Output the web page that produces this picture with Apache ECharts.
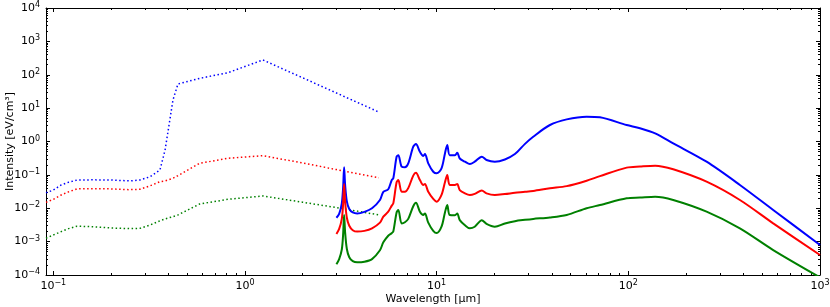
<!DOCTYPE html>
<html><head><meta charset="utf-8">
<script src="https://cdn.jsdelivr.net/npm/echarts@6/dist/echarts.min.js"></script>
<style>html,body{margin:0;padding:0;background:#fff}#c{width:830px;height:307px}</style>
</head><body><div id="c"></div>
<script>
// ---- data (wavelength in micron, intensity in eV/cm^3) ----
const dottedWave = [0.0916, 0.1, 0.11, 0.12, 0.133, 0.16, 0.2, 0.25, 0.283, 0.32, 0.36, 0.383, 0.421, 0.447, 0.58, 0.815, 1.24, 2.0, 3.0, 5.0];
const dottedBlue = [0.029, 0.035, 0.05, 0.06, 0.070, 0.071, 0.070, 0.066, 0.070, 0.088, 0.14, 0.556, 17.5, 52.8, 78, 115, 277, 81, 28.4, 7.6];
const dottedRed  = [0.015, 0.0185, 0.025, 0.031, 0.038, 0.0386, 0.038, 0.036, 0.037, 0.047, 0.0625, 0.066, 0.079, 0.095, 0.222, 0.314, 0.376, 0.227, 0.144, 0.082];
const dottedGreen= [0.00126, 0.00158, 0.002, 0.00245, 0.0029, 0.0028, 0.00256, 0.00245, 0.0025, 0.00315, 0.0042, 0.0048, 0.0056, 0.0063, 0.0134, 0.0185, 0.0233, 0.0151, 0.0105, 0.0063];

const solidWave = [3.0, 3.1, 3.2, 3.25, 3.29, 3.33, 3.4, 3.5, 3.65, 3.85, 4.2, 4.6, 5.06, 5.27, 5.59, 5.83, 5.94, 6.18, 6.31, 6.57, 6.83, 7.11, 7.55, 7.8, 8.18, 8.51, 8.69, 9.04, 9.6, 10.0, 10.6, 11.05, 11.36, 11.7, 12.46, 12.81, 13.2, 14.05, 14.9, 15.8, 17.2, 18.2, 20.1, 22.7, 25.6, 28.9, 31.9, 39, 47.7, 60.6, 71.1, 98, 115, 138, 171.5, 256, 382, 570, 1000];
const solidBlue = [0.0052, 0.0068, 0.014, 0.04, 0.17, 0.05, 0.016, 0.0095, 0.0075, 0.0070, 0.0078, 0.010, 0.0177, 0.031, 0.037, 0.07, 0.079, 0.35, 0.39, 0.176, 0.169, 0.222, 0.70, 0.84, 0.49, 0.37, 0.42, 0.22, 0.124, 0.111, 0.157, 0.44, 0.79, 0.39, 0.39, 0.46, 0.31, 0.248, 0.21, 0.248, 0.35, 0.28, 0.248, 0.29, 0.42, 0.85, 1.39, 3.12, 4.6, 5.54, 5.3, 3.12, 2.49, 1.75, 0.88, 0.248, 0.0498, 0.00887, 0.00079];
const solidRed = [0.0017, 0.0024, 0.0048, 0.013, 0.053, 0.016, 0.0052, 0.003, 0.0022, 0.0020, 0.0021, 0.0025, 0.0037, 0.0056, 0.0079, 0.012, 0.014, 0.06, 0.07, 0.031, 0.031, 0.040, 0.095, 0.115, 0.07, 0.05, 0.053, 0.031, 0.019, 0.0157, 0.025, 0.06, 0.099, 0.05, 0.05, 0.053, 0.035, 0.028, 0.025, 0.027, 0.034, 0.028, 0.025, 0.0267, 0.029, 0.031, 0.033, 0.0395, 0.046, 0.067, 0.092, 0.165, 0.178, 0.189, 0.147, 0.0625, 0.0177, 0.00354, 0.000397];
const solidGreen = [0.00021, 0.0003, 0.00058, 0.0016, 0.0063, 0.0019, 0.0006, 0.00034, 0.00026, 0.00024, 0.00025, 0.0003, 0.00055, 0.00095, 0.0015, 0.0018, 0.002, 0.0075, 0.0089, 0.0035, 0.0038, 0.0048, 0.0115, 0.0145, 0.0079, 0.0063, 0.007, 0.0037, 0.0021, 0.0018, 0.0028, 0.0075, 0.0125, 0.0063, 0.0062, 0.007, 0.0044, 0.0031, 0.0025, 0.0028, 0.0044, 0.0034, 0.0028, 0.0035, 0.0041, 0.0045, 0.0048, 0.0053, 0.0063, 0.010, 0.0125, 0.0199, 0.0209, 0.0222, 0.0177, 0.0079, 0.0025, 0.00056, 0.000085];

const xMajor = [0.1, 1, 10, 100, 1000];
const yMajor = [1e-4, 1e-3, 1e-2, 1e-1, 1, 10, 100, 1000, 10000];
const xMin = 0.0916, xMax = 1000, yMin = 1e-4, yMax = 1e4;
const xTitle = 'Wavelength [\u03bcm]';
const yTitle = 'Intensity [eV/cm\u00b3]';

// ---- helpers ----
const FONT = 'DejaVu Sans';
function minorOf(lo, hi) {
  const out = [];
  const e0 = Math.floor(Math.log10(lo)), e1 = Math.ceil(Math.log10(hi));
  for (let e = e0; e <= e1; e++) for (let k = 2; k <= 9; k++) {
    const v = k * Math.pow(10, e);
    if (v >= lo && v <= hi) out.push(v);
  }
  return out;
}
function powLabel(v) {
  const e = Math.round(Math.log10(v));
  return '{b|10}{s|' + (e < 0 ? '\u2212' + (-e) : e) + '}';
}
const rich = {
  b: { fontFamily: FONT, fontSize: 11, color: '#000', lineHeight: 14 },
  s: { fontFamily: FONT, fontSize: 8, color: '#000', lineHeight: 7, verticalAlign: 'top' }
};
const pair = (w, v) => w.map((x, i) => [x, v[i]]);
const black = { color: '#000', width: 1 };

function axisSet(kind, min, max, majors, pos, withLabels, extra) {
  const minors = minorOf(min, max);
  const base = { type: 'log', logBase: 10, min: min, max: max, position: pos, splitLine: { show: false }, minorTick: { show: false } };
  const major = Object.assign({}, base, {
    axisLine: { show: true, onZero: false, lineStyle: black },
    axisTick: { show: true, inside: true, length: 4, customValues: majors, lineStyle: black },
    axisLabel: withLabels ? { show: true, customValues: majors, formatter: powLabel, rich: rich, margin: kind === 'x' ? 4 : 6 } : { show: false }
  }, extra || {});
  const minor = Object.assign({}, base, {
    axisLine: { show: false },
    axisTick: { show: true, inside: true, length: 2, customValues: minors, lineStyle: black },
    axisLabel: { show: false }
  });
  return [major, minor];
}

const nameStyle = { fontFamily: FONT, fontSize: 11, color: '#000' };
const xAxes = [].concat(
  axisSet('x', xMin, xMax, xMajor, 'bottom', true, { name: xTitle, nameLocation: 'middle', nameGap: 19, nameMoveOverlap: false, nameTextStyle: nameStyle }),
  axisSet('x', xMin, xMax, xMajor, 'top', false)
);
const yAxes = [].concat(
  axisSet('y', yMin, yMax, yMajor, 'left', true, { name: yTitle, nameLocation: 'middle', nameGap: 30, nameRotate: 90, nameMoveOverlap: false, nameTextStyle: nameStyle }),
  axisSet('y', yMin, yMax, yMajor, 'right', false)
);

function lineSeries(w, v, color, dotted) {
  return {
    type: 'line', xAxisIndex: 0, yAxisIndex: 0, data: pair(w, v),
    showSymbol: false, symbol: 'none', clip: true,
    smooth: dotted ? false : 0.3,
    lineStyle: dotted ? { color: color, width: 1.5, type: [1.5, 2.5] } : { color: color, width: 2 },
    itemStyle: { color: color }, silent: true
  };
}

const chart = echarts.init(document.getElementById('c'), null, { renderer: 'canvas' });
chart.setOption({
  animation: false,
  backgroundColor: '#fff',
  grid: { left: 46, right: 10, top: 8, bottom: 32, containLabel: false, outerBoundsMode: 'none' },
  xAxis: xAxes,
  yAxis: yAxes,
  series: [
    lineSeries(dottedWave, dottedBlue, '#0000ff', true),
    lineSeries(dottedWave, dottedRed, '#ff0000', true),
    lineSeries(dottedWave, dottedGreen, '#008000', true),
    lineSeries(solidWave, solidBlue, '#0000ff', false),
    lineSeries(solidWave, solidRed, '#ff0000', false),
    lineSeries(solidWave, solidGreen, '#008000', false)
  ]
});
</script></body></html>
